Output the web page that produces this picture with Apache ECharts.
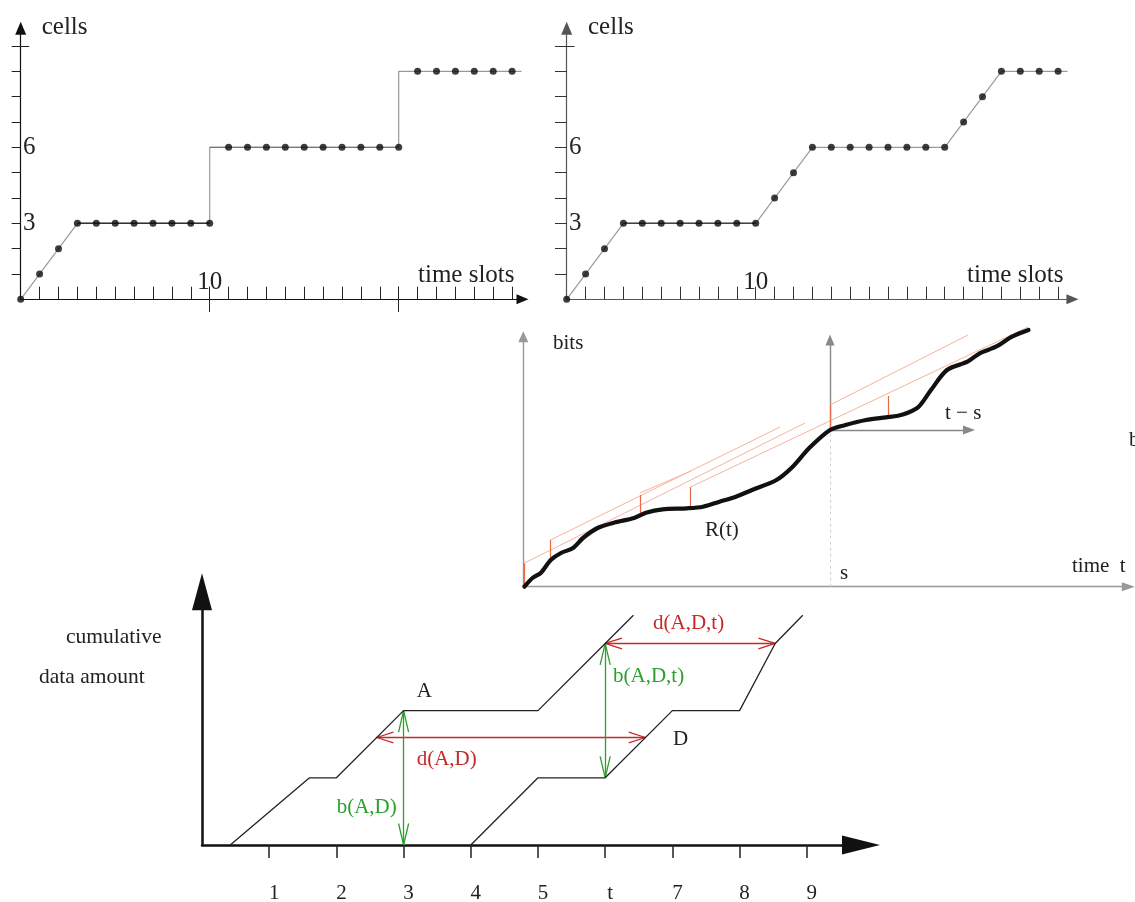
<!DOCTYPE html>
<html><head><meta charset="utf-8">
<script src="https://cdn.jsdelivr.net/npm/echarts@6/dist/echarts.min.js"></script>
<style>html,body{margin:0;padding:0;background:#fff}#c{width:1135px;height:902px}</style>
</head><body><div id="c"></div>
<script>
// ---------- data ----------
const slots = [0,1,2,3,4,5,6,7,8,9,10,11,12,13,14,15,16,17,18,19,20,21,22,23,24,25,26];
const cellsLeft  = [0,1,2,3,3,3,3,3,3,3,3,6,6,6,6,6,6,6,6,6,6,9,9,9,9,9,9];
const cellsRight = [0,1,2,3,3,3,3,3,3,3,3,4,5,6,6,6,6,6,6,6,6,7,8,9,9,9,9];
const pathLeft  = [[0,0],[3,3],[10,3],[10,6],[20,6],[20,9],[26.5,9]];
const pathRight = [[0,0],[3,3],[10,3],[13,6],[20,6],[23,9],[26.5,9]];
const slotTicks = [1,2,3,4,5,6,7,8,9,10,11,12,13,14,15,16,17,18,19,20,21,22,23,24,25,26];
const cellTicks = [1,2,3,4,5,6,7,8,9,10];
const cellLabels = [3,6];
const slotLabels = [10];
const longSlotTicks = [10,20];

const rCurve = [[0.11,0],[0.92,0.87],[1.74,1.37],[2.75,2.67],[3.77,3.37],[4.97,3.87],[5.97,4.87],[7.43,5.87],
  [9.05,6.4],[11.07,6.87],[12.27,7.4],[13.93,7.74],[16.37,7.84],[17.97,8.0],[19.62,8.5],[21.25,9.0],[22.87,9.67],
  [25.31,10.67],[26.94,12.0],[28.57,13.84],[30.67,15.67],[32.22,16.17],[34.27,16.67],[36.27,16.94],[37.47,17.1],
  [38.32,17.34],[39.54,18.0],[40.77,19.67],[42.37,21.67],[44.42,22.5],[45.64,23.34],[47.27,24.0],[48.87,25.0],[50.52,25.67]];
const envelopeLines = [
  [[0.07,2.34],[28.17,16.37]],
  [[2.72,4.67],[25.67,15.97]],
  [[11.67,9.37],[16.77,11.57]],
  [[16.72,9.97],[50.47,25.97]],
  [[30.67,18.17],[44.47,25.17]]
];
const envelopeRises = [
  [[0.07,0],[0.07,2.34]],
  [[2.72,2.67],[2.72,4.67]],
  [[11.67,7.37],[11.67,9.17]],
  [[16.72,7.97],[16.72,9.97]],
  [[30.67,15.67],[30.67,18.17]],
  [[36.47,16.97],[36.47,19.07]]
];
const sMark = [[30.67,0],[30.67,15.67]];

const seriesA = [[0.42,0],[1.6,1],[2,1],[3,2],[5,2],[6,3],[6.42,3.42]];
const seriesD = [[4,0],[5,1],[6,1],[7,2],[8,2],[8.53,3],[8.94,3.42]];
const bottomTicks = [1,2,3,4,5,6,7,8,9];
const bottomTickLabels = ['1','2','3','4','5','t','7','8','9'];
const delayAD = [[2.6,1.6],[6.6,1.6]];
const delayADt = [[6,3],[8.53,3]];
const backlogAD = [[3,0],[3,2]];
const backlogADt = [[6,1],[6,3]];

// ---------- chart ----------
const serif = '"Liberation Serif","Times New Roman",serif';
const chart = echarts.init(document.getElementById('c'));

// open arrowheads at both ends of a segment (sizes in axis units of the bottom panel)
function heads(seg, L, W) {
  const [[x1,y1],[x2,y2]] = seg;
  const len = Math.hypot(x2-x1, y2-y1), ux = (x2-x1)/len, uy = (y2-y1)/len, nx = -uy, ny = ux;
  return [
    [[x2,y2],[x2-L*ux+W*nx, y2-L*uy+W*ny]], [[x2,y2],[x2-L*ux-W*nx, y2-L*uy-W*ny]],
    [[x1,y1],[x1+L*ux+W*nx, y1+L*uy+W*ny]], [[x1,y1],[x1+L*ux-W*nx, y1+L*uy-W*ny]]
  ].map(c=>({coords:c}));
}

function grid(left, top, width, height) {
  return {left, top, width, height, containLabel:false, outerBoundsMode:'none'};
}
function ax(gridIndex, max, color, width, symSize, extra) {
  return Object.assign({
    type:'value', gridIndex, min:0, max,
    axisLine:{show:true, onZero:false, symbol:['none','triangle'], symbolSize:symSize, lineStyle:{color, width}},
    axisTick:{show:false}, axisLabel:{show:false}, splitLine:{show:false}
  }, extra || {});
}
const topTickLabel = (vals) => ({show:true, customValues:vals, inside:true, margin:4, fontSize:25, fontFamily:serif, color:'#222', verticalAlign:'bottom'});
const topYLabel = {show:true, customValues:cellLabels, inside:true, margin:2.3, fontSize:25, fontFamily:serif, color:'#222'};

const notes = [
  ['cells', 41.7, 27.4, 25, '#222'],
  ['time slots', 418, 275.4, 25, '#222'],
  ['cells', 588, 27.4, 25, '#222'],
  ['time slots', 967, 275.4, 25, '#222'],
  ['bits', 553, 343.6, 21, '#222'],
  ['R(t)', 705, 530.6, 21, '#222'],
  ['t \u2212 s', 945, 413.6, 21, '#222'],
  ['s', 840, 573.6, 21, '#222'],
  ['time  t', 1072, 566.6, 21, '#222'],
  ['b', 1129, 440.6, 21, '#222'],
  ['cumulative', 66, 637, 21.5, '#222'],
  ['data amount', 39, 677, 21.5, '#222'],
  ['A', 416.7, 691, 21, '#222'],
  ['D', 673, 739, 21, '#222'],
  ['d(A,D)', 416.7, 759, 21, '#c62828'],
  ['b(A,D)', 336.7, 807, 21, '#2ca02c'],
  ['d(A,D,t)', 653, 623, 21, '#c62828'],
  ['b(A,D,t)', 613, 676, 21, '#2ca02c']
];

const redSegs = [delayAD, delayADt];
const greenSegs = [backlogAD, backlogADt];

const option = {
  animation:false,
  grid:[
    grid(20.7, 28.27, 26.55*18.9, 271.03),
    grid(566.7, 28.27, 26.76*18.9, 271.03),
    grid(523.3, 336.7, 605, 250),
    grid(830, 340, 139, 90),
    grid(202, 591.7, 659, 253.3)
  ],
  xAxis:[
    ax(0, 26.55, '#111', 1.2, [10,12], {
      axisTick:{show:true, customValues:slotTicks, inside:true, length:12.6, lineStyle:{color:'#222', width:1}},
      axisLabel:topTickLabel(slotLabels)}),
    ax(1, 26.76, '#555', 1.2, [10,12], {
      axisTick:{show:true, customValues:slotTicks, inside:true, length:12.6, lineStyle:{color:'#333', width:1}},
      axisLabel:topTickLabel(slotLabels)}),
    ax(2, 60.5, '#999', 1.4, [9,13]),
    ax(3, 13.9, '#888', 1.4, [9,12]),
    ax(4, 9.807, '#111', 2.5, [19,38], {
      axisTick:{show:true, customValues:bottomTicks, inside:false, length:13, lineStyle:{color:'#222', width:1.5}},
      axisLabel:{show:true, customValues:bottomTicks, margin:38, fontSize:21, fontFamily:serif, color:'#222',
        padding:[0,0,0,10], formatter:(v)=>bottomTickLabels[bottomTicks.indexOf(v)]}})
  ],
  yAxis:[
    ax(0, 10.7, '#111', 1.2, [11,13], {
      axisTick:{show:true, customValues:cellTicks, inside:false, length:9, lineStyle:{color:'#222', width:1}},
      axisLabel:topYLabel}),
    ax(1, 10.7, '#555', 1.2, [11,13], {
      axisTick:{show:true, customValues:cellTicks, inside:false, length:11.7, lineStyle:{color:'#333', width:1}},
      axisLabel:topYLabel}),
    ax(2, 25, '#999', 1.4, [10,11]),
    ax(3, 9, '#888', 1.4, [9,11]),
    ax(4, 3.77, '#111', 2.5, [20,37])
  ],
  series:[
    // top-left
    {type:'line', xAxisIndex:0, yAxisIndex:0, data:pathLeft, symbol:'none', lineStyle:{color:'#9a9a9a', width:1.2}, z:2},
    {type:'line', xAxisIndex:0, yAxisIndex:0, data:pathLeft.slice(1,3), symbol:'none', lineStyle:{color:'#333', width:1.5}, z:2},
    {type:'line', xAxisIndex:0, yAxisIndex:0, data:pathLeft.slice(3,5), symbol:'none', lineStyle:{color:'#777', width:1.3}, z:2},
    {type:'scatter', xAxisIndex:0, yAxisIndex:0, data:slots.map((s,i)=>[s,cellsLeft[i]]), symbolSize:7, itemStyle:{color:'#0c0c0c'}, z:3},
    {type:'lines', coordinateSystem:'cartesian2d', xAxisIndex:0, yAxisIndex:0, clip:false,
      data:longSlotTicks.map(s=>({coords:[[s,-0.5],[s,0.5]]})).concat([{coords:[[-0.45,10],[0.45,10]]}]),
      lineStyle:{color:'#222', width:1, opacity:1}},
    // top-right
    {type:'line', xAxisIndex:1, yAxisIndex:1, data:pathRight, symbol:'none', lineStyle:{color:'#9a9a9a', width:1.2}, z:2},
    {type:'line', xAxisIndex:1, yAxisIndex:1, data:pathRight.slice(1,3), symbol:'none', lineStyle:{color:'#444', width:1.4}, z:2},
    {type:'scatter', xAxisIndex:1, yAxisIndex:1, data:slots.map((s,i)=>[s,cellsRight[i]]), symbolSize:7, itemStyle:{color:'#0c0c0c'}, z:3},
    {type:'lines', coordinateSystem:'cartesian2d', xAxisIndex:1, yAxisIndex:1, clip:false,
      data:[{coords:[[-0.62,10],[0.42,10]]}], lineStyle:{color:'#333', width:1, opacity:1}},
    // bits panel
    {type:'lines', coordinateSystem:'cartesian2d', xAxisIndex:2, yAxisIndex:2, clip:false,
      data:[{coords:sMark}], lineStyle:{color:'#cfcfcf', width:1, type:[3,3], opacity:1}},
    {type:'lines', coordinateSystem:'cartesian2d', xAxisIndex:2, yAxisIndex:2, clip:false,
      data:envelopeLines.map(c=>({coords:c})), lineStyle:{color:'#f6b39b', width:1, opacity:1}},
    {type:'lines', coordinateSystem:'cartesian2d', xAxisIndex:2, yAxisIndex:2, clip:false, z:3,
      data:envelopeRises.map(c=>({coords:c})), lineStyle:{color:'#e86a40', width:1.2, opacity:1}},
    {type:'line', xAxisIndex:2, yAxisIndex:2, data:rCurve, smooth:0.3, symbol:'none', clip:false,
      lineStyle:{color:'#111', width:4.2, cap:'round', join:'round'}, z:4},
    // bottom panel
    {type:'line', xAxisIndex:4, yAxisIndex:4, data:seriesA, symbol:'none', clip:false, lineStyle:{color:'#222', width:1.3}},
    {type:'line', xAxisIndex:4, yAxisIndex:4, data:seriesD, symbol:'none', clip:false, lineStyle:{color:'#222', width:1.3}},
    {type:'lines', coordinateSystem:'cartesian2d', xAxisIndex:4, yAxisIndex:4, clip:false,
      data:redSegs.map(c=>({coords:c})).concat(...redSegs.map(s=>heads(s,0.25,0.08))),
      lineStyle:{color:'#c62828', width:1.3, opacity:1}},
    {type:'lines', coordinateSystem:'cartesian2d', xAxisIndex:4, yAxisIndex:4, clip:false,
      data:greenSegs.map(c=>({coords:c})).concat(...greenSegs.map(s=>heads(s,0.32,0.075))),
      lineStyle:{color:'#2ca02c', width:1.3, opacity:1}}
  ],
  graphic: notes.map(n=>({type:'text', x:n[1], y:n[2], silent:true,
    style:{text:n[0], font:n[3]+'px '+serif, fill:n[4], align:'left', verticalAlign:'middle'}}))
};
chart.setOption(option);
</script></body></html>
